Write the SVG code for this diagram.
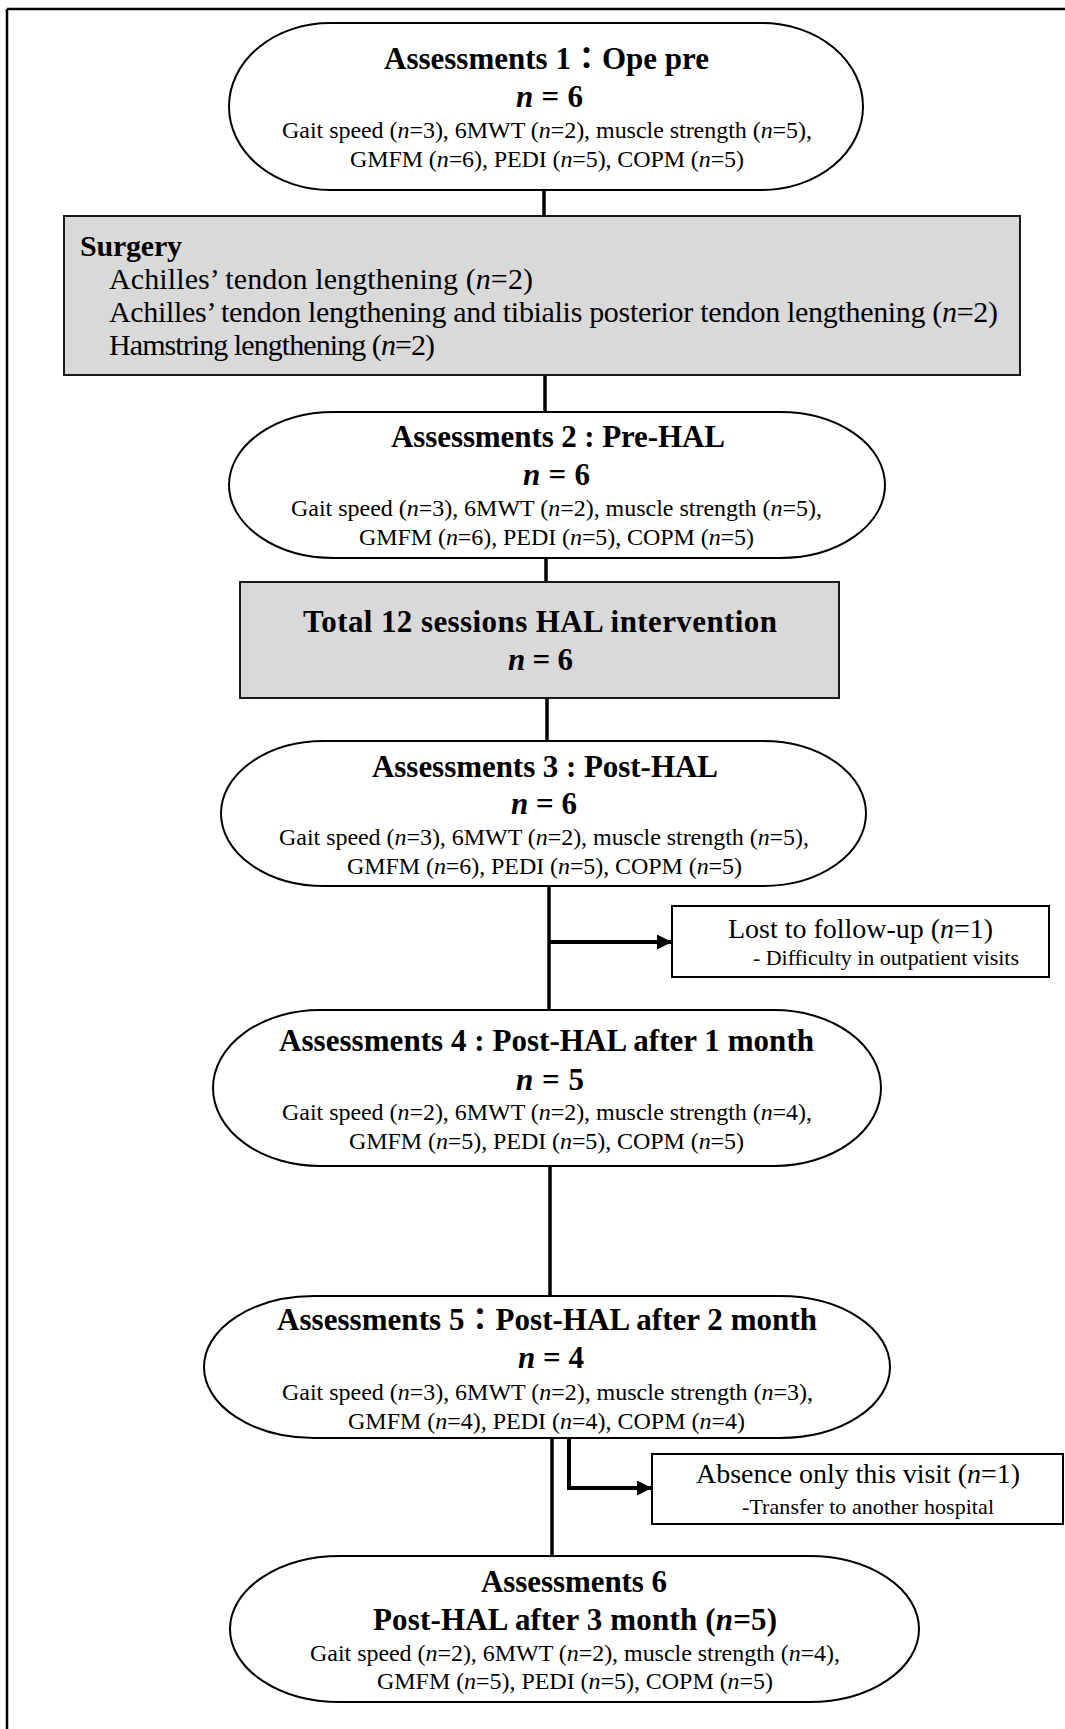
<svg xmlns="http://www.w3.org/2000/svg" width="1065" height="1729" viewBox="0 0 1065 1729">
<style>
text{font-family:"Liberation Serif","Noto Sans CJK JP",serif;fill:#000}
.t{font-size:31px;font-weight:bold}
.b{font-size:24px}
.s{font-size:30px}
.m{font-size:28px}
.r{font-size:22px}
.i{font-style:italic}
.ell{fill:#fff;stroke:#000;stroke-width:2}
.gray{fill:#d9d9d9;stroke:#1a1a1a;stroke-width:2}
.box{fill:#fff;stroke:#000;stroke-width:2}
.ln{stroke:#000;stroke-width:3.5;fill:none}
.br{stroke:#000;stroke-width:4;fill:none}
</style>
<defs>
<marker id="ah" markerUnits="userSpaceOnUse" markerWidth="16" markerHeight="16" refX="15" refY="7.5" orient="auto">
<path d="M0,0 L15,7.5 L0,15 Z" fill="#000"/>
</marker>
</defs>
<g id="frame">
<line x1="7" y1="9" x2="1065" y2="9" stroke="#000" stroke-width="2.5"/>
<line x1="7" y1="9" x2="7" y2="1729" stroke="#000" stroke-width="2.5"/>
</g>
<g id="connectors">
<line class="ln" x1="544" y1="190" x2="544" y2="216"/>
<line class="ln" x1="545" y1="375" x2="545" y2="412"/>
<line class="ln" x1="546" y1="558" x2="546" y2="582"/>
<line class="ln" x1="547" y1="698" x2="547" y2="741"/>
<line class="ln" x1="549" y1="886" x2="549" y2="1010"/>
<line class="br" x1="549" y1="942" x2="672" y2="942" marker-end="url(#ah)"/>
<line class="ln" x1="550" y1="1166" x2="550" y2="1296"/>
<line class="ln" x1="552" y1="1438" x2="552" y2="1556"/>
<polyline class="br" points="569,1438 569,1488 652,1488" marker-end="url(#ah)"/>
</g>
<g id="assess1">
<path class="ell" d="M330,23 H762 A101,83.5 0 0 1 762,190 H330 A101,83.5 0 0 1 330,23 Z"/>
<text class="t" x="384" y="69" textLength="325">Assessments 1：Ope pre</text>
<text class="t" x="516" y="107" textLength="67"><tspan class="i">n</tspan> = 6</text>
<text class="b" x="282" y="138" textLength="530">Gait speed (<tspan class="i">n</tspan>=3), 6MWT (<tspan class="i">n</tspan>=2), muscle strength (<tspan class="i">n</tspan>=5),</text>
<text class="b" x="350" y="167" textLength="394">GMFM (<tspan class="i">n</tspan>=6), PEDI (<tspan class="i">n</tspan>=5), COPM (<tspan class="i">n</tspan>=5)</text>
</g>
<g id="surgery">
<rect class="gray" x="64" y="216" width="956" height="159"/>
<text class="s" x="80" y="256" font-weight="bold" textLength="102">Surgery</text>
<text class="s" x="109" y="289" textLength="424">Achilles’ tendon lengthening (<tspan class="i">n</tspan>=2)</text>
<text class="s" x="109" y="322" textLength="889">Achilles’ tendon lengthening and tibialis posterior tendon lengthening (<tspan class="i">n</tspan>=2)</text>
<text class="s" x="109" y="355" textLength="326">Hamstring lengthening (<tspan class="i">n</tspan>=2)</text>
</g>
<g id="assess2">
<path class="ell" d="M334,412 H780 A105,73 0 0 1 780,558 H334 A105,73 0 0 1 334,412 Z"/>
<text class="t" x="391" y="447" textLength="334">Assessments 2 : Pre-HAL</text>
<text class="t" x="523" y="485" textLength="67"><tspan class="i">n</tspan> = 6</text>
<text class="b" x="291" y="516" textLength="531">Gait speed (<tspan class="i">n</tspan>=3), 6MWT (<tspan class="i">n</tspan>=2), muscle strength (<tspan class="i">n</tspan>=5),</text>
<text class="b" x="359" y="545" textLength="395">GMFM (<tspan class="i">n</tspan>=6), PEDI (<tspan class="i">n</tspan>=5), COPM (<tspan class="i">n</tspan>=5)</text>
</g>
<g id="hal">
<rect class="gray" x="240" y="582" width="599" height="116"/>
<text class="t" x="303" y="632" textLength="474">Total 12 sessions HAL intervention</text>
<text class="t" x="508" y="670" textLength="65"><tspan class="i">n</tspan> = 6</text>
</g>
<g id="assess3">
<path class="ell" d="M324,741 H763 A103,72.5 0 0 1 763,886 H324 A103,72.5 0 0 1 324,741 Z"/>
<text class="t" x="372" y="777" textLength="346">Assessments 3 : Post-HAL</text>
<text class="t" x="511" y="814" textLength="66"><tspan class="i">n</tspan> = 6</text>
<text class="b" x="279" y="845" textLength="530">Gait speed (<tspan class="i">n</tspan>=3), 6MWT (<tspan class="i">n</tspan>=2), muscle strength (<tspan class="i">n</tspan>=5),</text>
<text class="b" x="347" y="874" textLength="395">GMFM (<tspan class="i">n</tspan>=6), PEDI (<tspan class="i">n</tspan>=5), COPM (<tspan class="i">n</tspan>=5)</text>
</g>
<g id="lost">
<rect class="box" x="672" y="906" width="377" height="71"/>
<text class="m" x="728" y="938" textLength="265">Lost to follow-up (<tspan class="i">n</tspan>=1)</text>
<text class="r" x="753" y="965" textLength="266">- Difficulty in outpatient visits</text>
</g>
<g id="assess4">
<path class="ell" d="M320,1010 H774 A107,78 0 0 1 774,1166 H320 A107,78 0 0 1 320,1010 Z"/>
<text class="t" x="279" y="1051" textLength="535">Assessments 4 : Post-HAL after 1 month</text>
<text class="t" x="516" y="1090" textLength="68"><tspan class="i">n</tspan> = 5</text>
<text class="b" x="282" y="1120" textLength="530">Gait speed (<tspan class="i">n</tspan>=2), 6MWT (<tspan class="i">n</tspan>=2), muscle strength (<tspan class="i">n</tspan>=4),</text>
<text class="b" x="349" y="1149" textLength="395">GMFM (<tspan class="i">n</tspan>=5), PEDI (<tspan class="i">n</tspan>=5), COPM (<tspan class="i">n</tspan>=5)</text>
</g>
<g id="assess5">
<path class="ell" d="M314,1296 H780 A110,71 0 0 1 780,1438 H314 A110,71 0 0 1 314,1296 Z"/>
<text class="t" x="277" y="1330" textLength="540">Assessments 5：Post-HAL after 2 month</text>
<text class="t" x="518" y="1368" textLength="66"><tspan class="i">n</tspan> = 4</text>
<text class="b" x="282" y="1400" textLength="531">Gait speed (<tspan class="i">n</tspan>=3), 6MWT (<tspan class="i">n</tspan>=2), muscle strength (<tspan class="i">n</tspan>=3),</text>
<text class="b" x="348" y="1429" textLength="397">GMFM (<tspan class="i">n</tspan>=4), PEDI (<tspan class="i">n</tspan>=4), COPM (<tspan class="i">n</tspan>=4)</text>
</g>
<g id="absence">
<rect class="box" x="652" y="1454" width="411" height="70"/>
<text class="m" x="696" y="1483" textLength="324">Absence only this visit (<tspan class="i">n</tspan>=1)</text>
<text class="r" x="742" y="1514" textLength="252">-Transfer to another hospital</text>
</g>
<g id="assess6">
<path class="ell" d="M340,1556 H809 A110,73 0 0 1 809,1702 H340 A110,73 0 0 1 340,1556 Z"/>
<text class="t" x="481" y="1592" textLength="186">Assessments 6</text>
<text class="t" x="373" y="1630" textLength="404">Post-HAL after 3 month (<tspan class="i">n</tspan>=5)</text>
<text class="b" x="310" y="1661" textLength="530">Gait speed (<tspan class="i">n</tspan>=2), 6MWT (<tspan class="i">n</tspan>=2), muscle strength (<tspan class="i">n</tspan>=4),</text>
<text class="b" x="377" y="1689" textLength="396">GMFM (<tspan class="i">n</tspan>=5), PEDI (<tspan class="i">n</tspan>=5), COPM (<tspan class="i">n</tspan>=5)</text>
</g>
</svg>
